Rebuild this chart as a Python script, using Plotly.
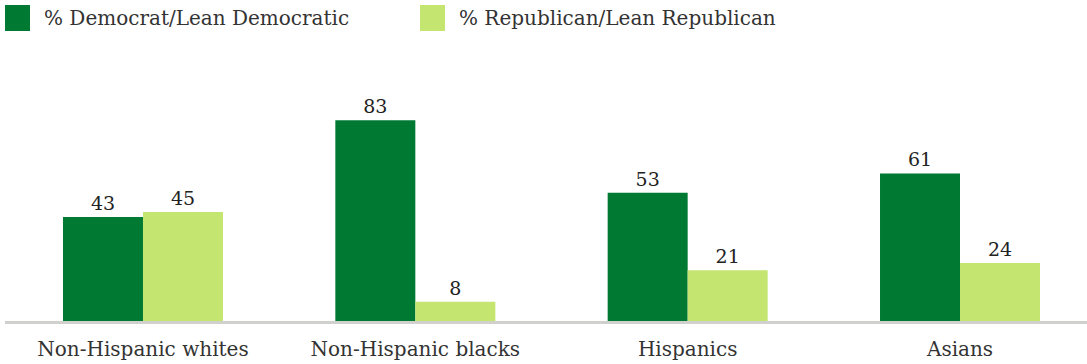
import plotly.graph_objects as go

categories = ["Non-Hispanic whites", "Non-Hispanic blacks", "Hispanics", "Asians"]
dem = [43, 83, 53, 61]
rep = [45, 8, 21, 24]
series_names = ["% Democrat/Lean Democratic", "% Republican/Lean Republican"]

DEM_COLOR = "#007a33"
REP_COLOR = "#c4e570"
FONT = "Georgia, DejaVu Serif, Liberation Serif, serif"
TEXT = "#333333"

W, H = 1087, 364
ML, MR, MT, MB = 5, 0, 60, 43

fig = go.Figure()
for name, vals, col in [(series_names[0], dem, DEM_COLOR), (series_names[1], rep, REP_COLOR)]:
    fig.add_trace(go.Bar(
        x=list(range(len(categories))), y=vals, name=name, marker_color=col,
        marker_line_width=0, text=[str(v) for v in vals], textposition="outside",
        textfont=dict(family=FONT, size=19, color="#222222"), cliponaxis=False,
        showlegend=False,
    ))

# manual legend
pw = W - ML - MR
ph = H - MT - MB
def px_x(p):
    return (p - ML) / pw
def px_y(p):
    return (H - MB - p) / ph

for (x0, col, name) in [(5, DEM_COLOR, series_names[0]), (420, REP_COLOR, series_names[1])]:
    fig.add_shape(type="rect", xref="paper", yref="paper",
                  x0=px_x(x0), x1=px_x(x0 + 25), y0=px_y(31), y1=px_y(5),
                  fillcolor=col, line_width=0)
    fig.add_annotation(xref="paper", yref="paper", x=px_x(x0 + 37), y=px_y(18),
                       xanchor="left", yanchor="middle", showarrow=False, text=name,
                       font=dict(family=FONT, size=20, color=TEXT))

fig.update_layout(
    width=W, height=H, margin=dict(l=ML, r=MR, t=MT, b=MB),
    paper_bgcolor="white", plot_bgcolor="white",
    barmode="group", bargap=0.4125, bargroupgap=0,
    xaxis=dict(tickmode="array", tickvals=list(range(len(categories))), ticktext=categories,
               range=[-0.5067, 3.4663], showgrid=False, zeroline=False,
               showline=True, linecolor="#d0d1cc", linewidth=3,
               tickfont=dict(family=FONT, size=20, color=TEXT), ticks="",
               ticklabelstandoff=8),
    yaxis=dict(range=[0, 107.85], visible=False, showgrid=False, zeroline=False),
)

fig.write_html("out.html", config={"displayModeBar": False})

# remove default page margin so the figure sits at the window's top-left corner
with open("out.html", "r", encoding="utf-8") as f:
    html = f.read()
html = html.replace("<head>", "<head><style>html,body{margin:0;padding:0;overflow:hidden;}</style>", 1)
with open("out.html", "w", encoding="utf-8") as f:
    f.write(html)
